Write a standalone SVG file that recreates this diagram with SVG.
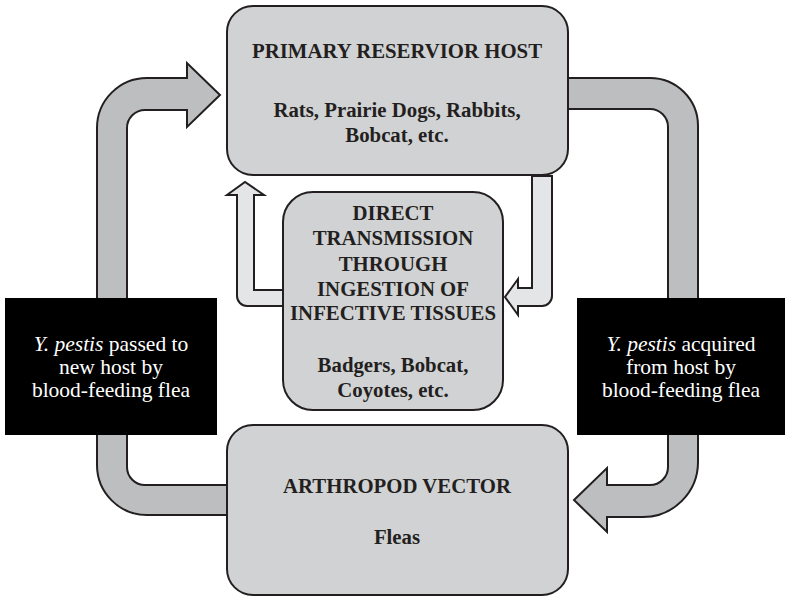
<svg xmlns="http://www.w3.org/2000/svg" width="785" height="600" viewBox="0 0 785 600">
  <style>
    .bg { fill: #ffffff; }
    .big { fill: #bdbec0; stroke: #231f20; stroke-width: 2; stroke-linejoin: miter; }
    .small { fill: #e4e5e7; stroke: #231f20; stroke-width: 2; stroke-linejoin: miter; }
    .box { fill: #d1d2d4; stroke: #231f20; stroke-width: 2; }
    .dark { fill: #000000; }
    .bt { font-family: "Liberation Serif", "Times New Roman", serif; font-weight: bold; font-size: 20.8px; fill: #231f20; text-anchor: middle; }
    .wt { font-family: "Liberation Serif", "Times New Roman", serif; font-size: 21.5px; fill: #ffffff; text-anchor: middle; }
  </style>
  <rect class="bg" x="0" y="0" width="785" height="600"/>

  <g id="connectors">
    <!-- outer cycle: flea back up to the reservoir host -->
    <path class="big" d="M 97 300 L 97 128 A 50 50 0 0 1 147 78 L 187 78 L 187 63 L 220 95 L 187 127 L 187 110 L 145 110 A 18 18 0 0 0 127 128 L 127 300 Z"/>
    <path class="big" d="M 97 433 L 97 465 A 50 50 0 0 0 147 515 L 230 515 L 230 485 L 145 485 A 18 18 0 0 1 127 467 L 127 433 Z"/>
    <!-- outer cycle: host down to the arthropod vector -->
    <path class="big" d="M 566 78 L 650 78 A 48 48 0 0 1 698 126 L 698 300 L 668 300 L 668 127 A 18 18 0 0 0 650 109 L 566 109 Z"/>
    <path class="big" d="M 698 433 L 698 462 A 55 55 0 0 1 643 517 L 607 517 L 607 532 L 574 500 L 607 468 L 607 485 L 650 485 A 18 18 0 0 0 668 467 L 668 433 Z"/>
    <!-- inner loop: direct transmission -->
    <path class="small" d="M 237 195 L 227 195 L 245 182 L 264 195 L 254 195 L 254 290 L 285 290 L 285 306 L 247 306 A 10 10 0 0 1 237 296 Z"/>
    <path class="small" d="M 532 176 L 552 176 L 552 296 A 10 10 0 0 1 542 306 L 518 306 L 518 315 L 505 297 L 518 279 L 518 288 L 532 288 Z"/>
  </g>

  <g id="reservoir-host">
    <rect class="box" x="227" y="6" width="341" height="169" rx="26" ry="26"/>
    <text class="bt" x="397" y="58">PRIMARY RESERVIOR HOST</text>
    <text class="bt" x="397" y="117">Rats, Prairie Dogs, Rabbits,</text>
    <text class="bt" x="397" y="142">Bobcat, etc.</text>
  </g>

  <g id="direct-transmission">
    <rect class="box" x="283" y="192" width="220" height="218" rx="30" ry="30"/>
    <text class="bt" x="393" y="220">DIRECT</text>
    <text class="bt" x="393" y="245">TRANSMISSION</text>
    <text class="bt" x="393" y="271">THROUGH</text>
    <text class="bt" x="393" y="296">INGESTION OF</text>
    <text class="bt" x="393" y="320">INFECTIVE TISSUES</text>
    <text class="bt" x="393" y="372">Badgers, Bobcat,</text>
    <text class="bt" x="393" y="397">Coyotes, etc.</text>
  </g>

  <g id="arthropod-vector">
    <rect class="box" x="227" y="425" width="341" height="170" rx="26" ry="26"/>
    <text class="bt" x="397" y="493">ARTHROPOD VECTOR</text>
    <text class="bt" x="397" y="544">Fleas</text>
  </g>

  <g id="passed-to-host">
    <rect class="dark" x="5" y="298" width="212" height="137"/>
    <text class="wt" x="111" y="351"><tspan font-style="italic">Y. pestis</tspan> passed to</text>
    <text class="wt" x="111" y="374">new host by</text>
    <text class="wt" x="111" y="397">blood-feeding flea</text>
  </g>

  <g id="acquired-from-host">
    <rect class="dark" x="577" y="298" width="208" height="137"/>
    <text class="wt" x="681" y="351"><tspan font-style="italic">Y. pestis</tspan> acquired</text>
    <text class="wt" x="681" y="374">from host by</text>
    <text class="wt" x="681" y="397">blood-feeding flea</text>
  </g>
</svg>
